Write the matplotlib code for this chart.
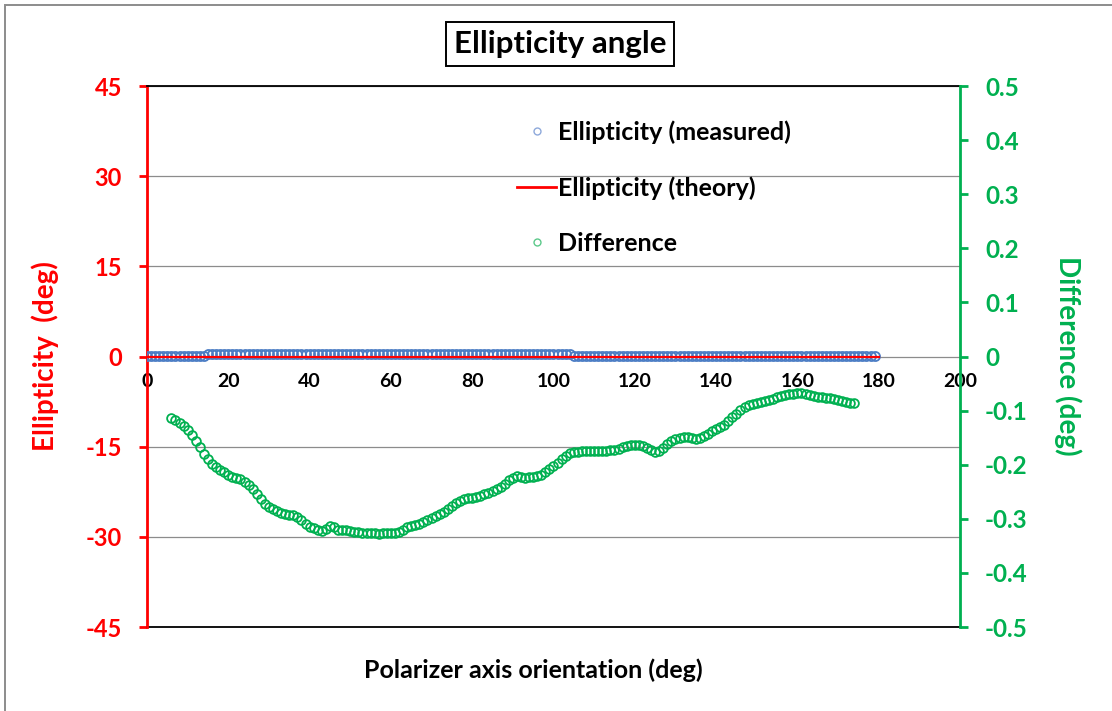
import matplotlib.pyplot as plt
from matplotlib.lines import Line2D
from matplotlib.patches import Rectangle
import numpy as np

# measured ellipticity (deg), one point per degree 0..179
meas_x = list(range(0, 180))
meas_y = [0.05, 0.05, 0.05, 0.05, 0.05, 0.05, 0.05, 0.05, 0.05, 0.05, 0.05, 0.05, 0.05, 0.05, 0.05,
          0.35, 0.35, 0.35, 0.35, 0.35, 0.35, 0.35, 0.35, 0.35, 0.35, 0.35, 0.35, 0.35, 0.35, 0.35,
          0.35, 0.35, 0.35, 0.35, 0.35, 0.35, 0.35, 0.35, 0.35, 0.35, 0.35, 0.35, 0.35, 0.35, 0.35,
          0.35, 0.35, 0.35, 0.35, 0.35, 0.35, 0.35, 0.35, 0.35, 0.35, 0.35, 0.35, 0.35, 0.35, 0.35,
          0.35, 0.35, 0.35, 0.35, 0.35, 0.35, 0.35, 0.35, 0.35, 0.35, 0.35, 0.35, 0.35, 0.35, 0.35,
          0.35, 0.35, 0.35, 0.35, 0.35, 0.35, 0.35, 0.35, 0.35, 0.35, 0.35, 0.35, 0.35, 0.35, 0.35,
          0.35, 0.35, 0.35, 0.35, 0.35, 0.35, 0.35, 0.35, 0.35, 0.35, 0.35, 0.35, 0.35, 0.35, 0.35,
          0.05, 0.05, 0.05, 0.05, 0.05, 0.05, 0.05, 0.05, 0.05, 0.05, 0.05, 0.05, 0.05, 0.05, 0.05,
          0.05, 0.05, 0.05, 0.05, 0.05, 0.05, 0.05, 0.05, 0.05, 0.05, 0.05, 0.05, 0.05, 0.05, 0.05,
          0.05, 0.05, 0.05, 0.05, 0.05, 0.05, 0.05, 0.05, 0.05, 0.05, 0.05, 0.05, 0.05, 0.05, 0.05,
          0.05, 0.05, 0.05, 0.05, 0.05, 0.05, 0.05, 0.05, 0.05, 0.05, 0.05, 0.05, 0.05, 0.05, 0.05,
          0.05, 0.05, 0.05, 0.05, 0.05, 0.05, 0.05, 0.05, 0.05, 0.05, 0.05, 0.05, 0.05, 0.05, 0.05]

# theoretical ellipticity (deg)
theory_x = [0, 180]
theory_y = [0, 0]

# difference measured - theory (deg), one point per degree 6..174
diff_x = list(range(6, 175))
diff_y = [-0.113, -0.118, -0.122, -0.128, -0.136, -0.145, -0.156, -0.168, -0.180, -0.190,
          -0.198, -0.204, -0.209, -0.214, -0.219, -0.222, -0.225, -0.227, -0.232, -0.238,
          -0.245, -0.254, -0.264, -0.272, -0.278, -0.282, -0.286, -0.289, -0.291, -0.292,
          -0.293, -0.296, -0.303, -0.310, -0.315, -0.317, -0.320, -0.322, -0.318, -0.314,
          -0.316, -0.320, -0.320, -0.321, -0.322, -0.324, -0.325, -0.326, -0.326, -0.327,
          -0.327, -0.328, -0.327, -0.327, -0.327, -0.326, -0.325, -0.320, -0.316, -0.313,
          -0.311, -0.309, -0.306, -0.302, -0.299, -0.295, -0.291, -0.287, -0.282, -0.276,
          -0.271, -0.267, -0.264, -0.262, -0.261, -0.259, -0.257, -0.255, -0.253, -0.249,
          -0.245, -0.241, -0.235, -0.229, -0.224, -0.220, -0.222, -0.224, -0.223, -0.222,
          -0.221, -0.219, -0.214, -0.208, -0.202, -0.196, -0.190, -0.184, -0.178, -0.176,
          -0.176, -0.175, -0.175, -0.174, -0.175, -0.175, -0.175, -0.174, -0.173, -0.172,
          -0.170, -0.167, -0.165, -0.164, -0.163, -0.163, -0.165, -0.169, -0.173, -0.177,
          -0.175, -0.169, -0.162, -0.156, -0.152, -0.150, -0.149, -0.149, -0.151, -0.152,
          -0.150, -0.147, -0.143, -0.138, -0.134, -0.131, -0.127, -0.120, -0.112, -0.106,
          -0.099, -0.093, -0.090, -0.088, -0.086, -0.084, -0.082, -0.080, -0.078, -0.075,
          -0.073, -0.071, -0.070, -0.069, -0.068, -0.067, -0.070, -0.072, -0.073, -0.074,
          -0.075, -0.076, -0.077, -0.078, -0.080, -0.082, -0.084, -0.085, -0.086]

left_ticks = [-45, -30, -15, 0, 15, 30, 45]
right_ticks = [-0.5, -0.4, -0.3, -0.2, -0.1, 0, 0.1, 0.2, 0.3, 0.4, 0.5]
right_labels = ['-0.5', '-0.4', '-0.3', '-0.2', '-0.1', '0', '0.1', '0.2', '0.3', '0.4', '0.5']
x_ticks = [0, 20, 40, 60, 80, 100, 120, 140, 160, 180, 200]

RED = '#FF0000'
GREEN = '#00B050'
BLUE = '#4A7CC4'

plt.rcParams['font.family'] = ['Lato', 'DejaVu Sans']
plt.rcParams['font.weight'] = 'bold'
plt.rcParams['axes.unicode_minus'] = False

fig = plt.figure(figsize=(11.12, 7.11), dpi=100)
ax = fig.add_axes([0.1322, 0.1181, 0.7311, 0.7609])
ax2 = ax.twinx()

# left axis: ellipticity
ax.plot(meas_x, meas_y, 'o', mfc='none', mec=BLUE, ms=6.5, mew=1.3, zorder=3)
ax.plot(theory_x, theory_y, '-', color=RED, lw=1.6, zorder=4)
ax.set_xlim(0, 200)
ax.set_ylim(-45, 45)
ax.set_yticks(left_ticks)
ax.set_xticks(x_ticks)
ax.yaxis.grid(True, color='#8C8C8C', lw=0.9)
ax.set_axisbelow(True)

ax.spines['left'].set_color(RED)
ax.spines['left'].set_linewidth(2.0)
ax.spines['right'].set_visible(False)
ax.spines['top'].set_color('black')
ax.spines['top'].set_linewidth(1.3)
ax.spines['bottom'].set_position(('data', 0))
ax.spines['bottom'].set_visible(False)
ax.axhline(-45, color='black', lw=1.3, clip_on=False, zorder=1)
ax.tick_params(axis='y', colors=RED, direction='out', length=6, width=2.0,
               pad=12, labelsize=17)
ax.tick_params(axis='x', colors='black', length=0, pad=12, labelsize=14)
for lab in ax.get_yticklabels() + ax.get_xticklabels():
    lab.set_fontweight('bold')

# right axis: difference
ax2.plot(diff_x, diff_y, 'o', mfc='none', mec=GREEN, ms=6.3, mew=1.3, zorder=3)
ax2.set_ylim(-0.5, 0.5)
ax2.set_yticks(right_ticks)
ax2.set_yticklabels(right_labels)
for s in ['left', 'top', 'bottom']:
    ax2.spines[s].set_visible(False)
ax2.spines['right'].set_color(GREEN)
ax2.spines['right'].set_linewidth(2.0)
ax2.tick_params(axis='y', colors=GREEN, direction='out', length=6, width=2.0,
                pad=12, labelsize=17.5)
for lab in ax2.get_yticklabels():
    lab.set_fontweight('bold')

# legend
handles = [
    Line2D([], [], ls='none', marker='o', mfc='none', mec='#8EA9DB', ms=5, mew=1.0),
    Line2D([], [], color=RED, lw=2.0),
    Line2D([], [], ls='none', marker='o', mfc='none', mec='#5CC98A', ms=5, mew=1.0),
]
labels = ['Ellipticity (measured)', 'Ellipticity (theory)', 'Difference']
fig.legend(handles, labels, loc='upper left', bbox_to_anchor=(0.4447, 0.862),
           frameon=False, labelspacing=1.28, handlelength=1.56,
           handletextpad=0.08, prop={'weight': 'bold', 'size': 18})

# titles and axis labels
fig.text(0.5036, 0.938, 'Ellipticity angle', ha='center', va='center',
         fontsize=22.5, fontweight='bold',
         bbox=dict(boxstyle='square,pad=0.25', fc='white', ec='black', lw=1.4))
fig.text(0.4798, 0.0577, 'Polarizer axis orientation (deg)', ha='center', va='center',
         fontsize=18, fontweight='bold', color='black')
fig.text(0.0405, 0.4993, 'Ellipticity  (deg)', ha='center', va='center', rotation=90,
         fontsize=20, fontweight='bold', color=RED)
fig.text(0.960, 0.500, 'Difference (deg)', ha='center', va='center', rotation=-90,
         fontsize=20, fontweight='bold', color=GREEN)

# chart area border (left and top edges visible)
fig.patches.append(Rectangle((0.0042, -0.1), 2.0, 1.0923, transform=fig.transFigure,
                             fill=False, ec='#8C8C8C', lw=1.4, clip_on=False))

fig.savefig('out.png', dpi=100)
